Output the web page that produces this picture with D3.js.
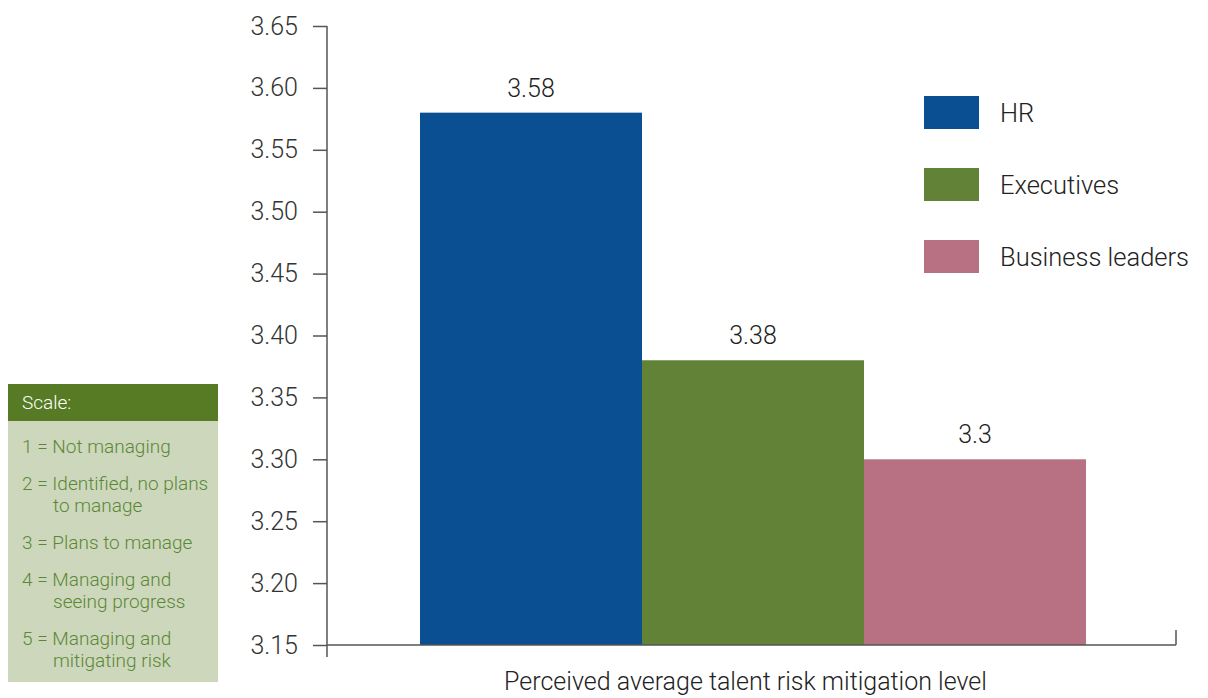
<!DOCTYPE html>
<html lang="en">
<head>
<meta charset="UTF-8">
<title>Perceived average talent risk mitigation level</title>
<script src="https://d3js.org/d3.v7.min.js"></script>
<style>
    body { margin: 0; background: #fff; font-family: Roboto, "Liberation Sans", Arial, sans-serif; }
    svg text { font-weight: 300; }
</style>
</head>
<body>
<div id="chart"></div>
<script>
    // data
    const category = "Perceived average talent risk mitigation level";
    const series = ["HR", "Executives", "Business leaders"];
    const values = [3.58, 3.38, 3.3];
    const valueLabels = ["3.58", "3.38", "3.3"];
    const colors = ["#0b4f93", "#628237", "#b87083"];
    const yTicks = [3.15, 3.20, 3.25, 3.30, 3.35, 3.40, 3.45, 3.50, 3.55, 3.60, 3.65];
    const scaleTitle = "Scale:";
    const scaleItems = [
        ["1 = Not managing"],
        ["2 = Identified, no plans", "to manage"],
        ["3 = Plans to manage"],
        ["4 = Managing and", "seeing progress"],
        ["5 = Managing and", "mitigating risk"]
    ];

    const width = 1208, height = 698;
    const svg = d3.select("#chart").append("svg")
        .attr("width", width).attr("height", height);

    const y = d3.scaleLinear().domain([3.15, 3.65]).range([645, 26]);
    const x0 = d3.scaleBand().domain([category]).range([327, 1176]);
    const x1 = d3.scaleBand().domain(series).range([420 - 327, 1086 - 327]);

    // bars
    const rows = series.map((s, i) => ({ s, v: values[i], c: colors[i], l: valueLabels[i] }));
    svg.selectAll(".bar")
        .data(rows)
        .enter().append("rect")
        .attr("class", "bar")
        .attr("x", d => x0(category) + x1(d.s))
        .attr("y", d => y(d.v))
        .attr("width", x1.bandwidth())
        .attr("height", d => y(3.15) - y(d.v))
        .attr("fill", d => d.c);

    svg.selectAll(".val")
        .data(rows)
        .enter().append("text")
        .attr("x", d => x0(category) + x1(d.s) + x1.bandwidth() / 2)
        .attr("y", d => y(d.v) - 16)
        .attr("text-anchor", "middle")
        .attr("font-size", 25)
        .attr("fill", "#222")
        .text(d => d.l);

    // y axis
    const yAxis = svg.append("g").attr("transform", "translate(327,0)")
        .call(d3.axisLeft(y).tickValues(yTicks).tickFormat(d3.format(".2f")).tickSize(14).tickPadding(15));
    yAxis.select(".domain").remove();
    yAxis.selectAll(".tick line").attr("stroke", "#555").attr("stroke-width", 1.5);
    yAxis.selectAll(".tick text").attr("font-size", 25).attr("fill", "#333")
        .attr("font-family", "Roboto, 'Liberation Sans', sans-serif");
    svg.append("line").attr("x1", 327).attr("x2", 327).attr("y1", y(3.65)).attr("y2", 657)
        .attr("stroke", "#555").attr("stroke-width", 1.5);

    // x axis
    svg.append("line").attr("x1", 327).attr("x2", 1176).attr("y1", y(3.15)).attr("y2", y(3.15))
        .attr("stroke", "#555").attr("stroke-width", 1.5);
    svg.append("line").attr("x1", 1176).attr("x2", 1176).attr("y1", y(3.15) - 15).attr("y2", y(3.15))
        .attr("stroke", "#555").attr("stroke-width", 1.5);
    svg.append("text")
        .attr("x", x0(category) + x0.bandwidth() / 2 - 6)
        .attr("y", 690)
        .attr("text-anchor", "middle")
        .attr("font-size", 25)
        .attr("fill", "#222")
        .text(category);

    // legend
    const legend = svg.append("g").selectAll("g").data(series).enter().append("g")
        .attr("transform", (d, i) => `translate(924,${96 + i * 72})`);
    legend.append("rect").attr("width", 55).attr("height", 33).attr("fill", (d, i) => colors[i]);
    legend.append("text").attr("x", 76).attr("y", 26).attr("font-size", 25.5).attr("fill", "#222").text(d => d);

    // scale box
    const box = svg.append("g").attr("transform", "translate(8,384)");
    box.append("rect").attr("width", 210).attr("height", 298).attr("fill", "#cdd7bc");
    box.append("rect").attr("width", 210).attr("height", 37).attr("fill", "#567b24");
    box.append("text").attr("x", 14).attr("y", 25).attr("font-size", 19).attr("fill", "#fff").text(scaleTitle);
    let ly = 69;
    scaleItems.forEach(lines => {
        lines.forEach((t, j) => {
            box.append("text")
                .attr("x", j === 0 ? 14 : 45)
                .attr("y", ly + j * 22)
                .attr("font-size", 19)
                .attr("fill", "#5b8736")
                .text(t);
        });
        ly += (lines.length - 1) * 22 + 37;
    });
</script>
</body>
</html>
